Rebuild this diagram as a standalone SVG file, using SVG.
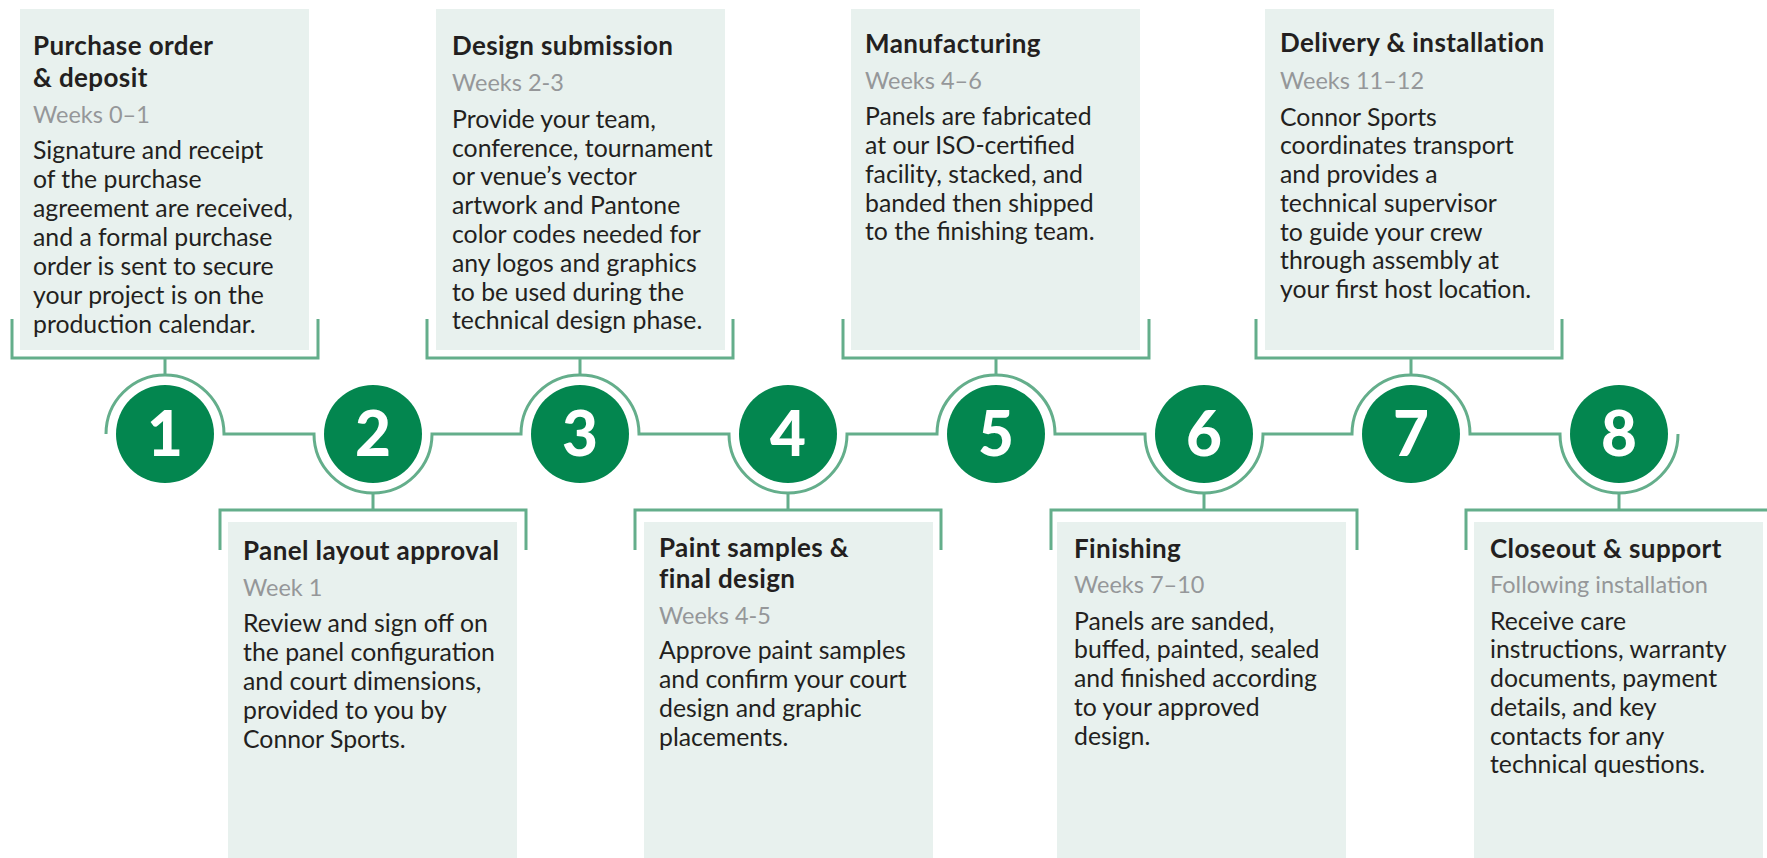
<svg xmlns="http://www.w3.org/2000/svg" width="1767" height="858" viewBox="0 0 1767 858">
<style>
.box{fill:#e8f1ee}
.ln{fill:none;stroke:#64ae8b;stroke-width:3}
.c{fill:#03864f}
.num{font-family:Lato,"Liberation Sans",sans-serif;font-weight:900;font-size:62px;fill:#fff;text-anchor:middle}
.t{font-family:Lato,"Liberation Sans",sans-serif;font-weight:700;font-size:26px;letter-spacing:0.4px;fill:#231f20}
.s{font-family:Lato,"Liberation Sans",sans-serif;font-size:23.5px;fill:#959799}
.b{font-family:Lato,"Liberation Sans",sans-serif;font-size:24.8px;fill:#231f20}
</style>
<rect width="1767" height="858" fill="#fff"/>
<g id="connectors">
<path class="ln" d="M106 434 A59 59 0 0 1 224 434 H314 A59 59 0 0 0 432 434 H521 A59 59 0 0 1 639 434 H729 A59 59 0 0 0 847 434 H937 A59 59 0 0 1 1055 434 H1145 A59 59 0 0 0 1263 434 H1352 A59 59 0 0 1 1470 434 H1560 A59 59 0 0 0 1678 434"/>
<path class="ln" d="M165 375 V358 M12 319 V358 H318 V319"/>
<path class="ln" d="M580 375 V358 M427 319 V358 H733 V319"/>
<path class="ln" d="M996 375 V358 M843 319 V358 H1149 V319"/>
<path class="ln" d="M1411 375 V358 M1256 319 V358 H1562 V319"/>
<path class="ln" d="M373 493 V510 M220 550 V510 H526 V550"/>
<path class="ln" d="M788 493 V510 M635 550 V510 H941 V550"/>
<path class="ln" d="M1204 493 V510 M1051 550 V510 H1357 V550"/>
<path class="ln" d="M1619 493 V510 M1466 550 V510 H1767"/>
</g>
<g id="step1">
<rect class="box" x="20" y="9" width="289" height="341"/>
<text class="t" x="33" y="55">Purchase order</text>
<text class="t" x="33" y="87">&amp; deposit</text>
<text class="s" x="33" y="123">Weeks 0–1</text>
<text class="b" x="33" y="159">Signature and receipt</text>
<text class="b" x="33" y="188">of the purchase</text>
<text class="b" x="33" y="217">agreement are received,</text>
<text class="b" x="33" y="246">and a formal purchase</text>
<text class="b" x="33" y="275">order is sent to secure</text>
<text class="b" x="33" y="304">your project is on the</text>
<text class="b" x="33" y="333">production calendar.</text>
<circle class="c" cx="165" cy="434" r="49"/>
<text class="num" x="165" y="456">1</text>
</g>
<g id="step2">
<rect class="box" x="228" y="522" width="289" height="336"/>
<text class="t" x="243" y="560">Panel layout approval</text>
<text class="s" x="243" y="596">Week 1</text>
<text class="b" x="243" y="632">Review and sign off on</text>
<text class="b" x="243" y="661">the panel configuration</text>
<text class="b" x="243" y="690">and court dimensions,</text>
<text class="b" x="243" y="719">provided to you by</text>
<text class="b" x="243" y="748">Connor Sports.</text>
<circle class="c" cx="373" cy="434" r="49"/>
<text class="num" x="373" y="456">2</text>
</g>
<g id="step3">
<rect class="box" x="436" y="9" width="289" height="341"/>
<text class="t" x="452" y="55">Design submission</text>
<text class="s" x="452" y="91">Weeks 2-3</text>
<text class="b" x="452" y="128">Provide your team,</text>
<text class="b" x="452" y="157">conference, tournament</text>
<text class="b" x="452" y="185">or venue’s vector</text>
<text class="b" x="452" y="214">artwork and Pantone</text>
<text class="b" x="452" y="243">color codes needed for</text>
<text class="b" x="452" y="272">any logos and graphics</text>
<text class="b" x="452" y="301">to be used during the</text>
<text class="b" x="452" y="329">technical design phase.</text>
<circle class="c" cx="580" cy="434" r="49"/>
<text class="num" x="580" y="456">3</text>
</g>
<g id="step4">
<rect class="box" x="644" y="522" width="289" height="336"/>
<text class="t" x="659" y="557">Paint samples &amp;</text>
<text class="t" x="659" y="588">final design</text>
<text class="s" x="659" y="624">Weeks 4-5</text>
<text class="b" x="659" y="659">Approve paint samples</text>
<text class="b" x="659" y="688">and confirm your court</text>
<text class="b" x="659" y="717">design and graphic</text>
<text class="b" x="659" y="746">placements.</text>
<circle class="c" cx="788" cy="434" r="49"/>
<text class="num" x="788" y="456">4</text>
</g>
<g id="step5">
<rect class="box" x="851" y="9" width="289" height="341"/>
<text class="t" x="865" y="53">Manufacturing</text>
<text class="s" x="865" y="89">Weeks 4–6</text>
<text class="b" x="865" y="125">Panels are fabricated</text>
<text class="b" x="865" y="154">at our ISO-certified</text>
<text class="b" x="865" y="183">facility, stacked, and</text>
<text class="b" x="865" y="212">banded then shipped</text>
<text class="b" x="865" y="240">to the finishing team.</text>
<circle class="c" cx="996" cy="434" r="49"/>
<text class="num" x="996" y="456">5</text>
</g>
<g id="step6">
<rect class="box" x="1057" y="522" width="289" height="336"/>
<text class="t" x="1074" y="558">Finishing</text>
<text class="s" x="1074" y="593">Weeks 7–10</text>
<text class="b" x="1074" y="630">Panels are sanded,</text>
<text class="b" x="1074" y="658">buffed, painted, sealed</text>
<text class="b" x="1074" y="687">and finished according</text>
<text class="b" x="1074" y="716">to your approved</text>
<text class="b" x="1074" y="745">design.</text>
<circle class="c" cx="1204" cy="434" r="49"/>
<text class="num" x="1204" y="456">6</text>
</g>
<g id="step7">
<rect class="box" x="1265" y="9" width="289" height="341"/>
<text class="t" x="1280" y="52">Delivery &amp; installation</text>
<text class="s" x="1280" y="89">Weeks 11–12</text>
<text class="b" x="1280" y="126">Connor Sports</text>
<text class="b" x="1280" y="154">coordinates transport</text>
<text class="b" x="1280" y="183">and provides a</text>
<text class="b" x="1280" y="212">technical supervisor</text>
<text class="b" x="1280" y="241">to guide your crew</text>
<text class="b" x="1280" y="269">through assembly at</text>
<text class="b" x="1280" y="298">your first host location.</text>
<circle class="c" cx="1411" cy="434" r="49"/>
<text class="num" x="1411" y="456">7</text>
</g>
<g id="step8">
<rect class="box" x="1474" y="522" width="289" height="336"/>
<text class="t" x="1490" y="558">Closeout &amp; support</text>
<text class="s" x="1490" y="593">Following installation</text>
<text class="b" x="1490" y="630">Receive care</text>
<text class="b" x="1490" y="658">instructions, warranty</text>
<text class="b" x="1490" y="687">documents, payment</text>
<text class="b" x="1490" y="716">details, and key</text>
<text class="b" x="1490" y="745">contacts for any</text>
<text class="b" x="1490" y="773">technical questions.</text>
<circle class="c" cx="1619" cy="434" r="49"/>
<text class="num" x="1619" y="456">8</text>
</g>
</svg>
